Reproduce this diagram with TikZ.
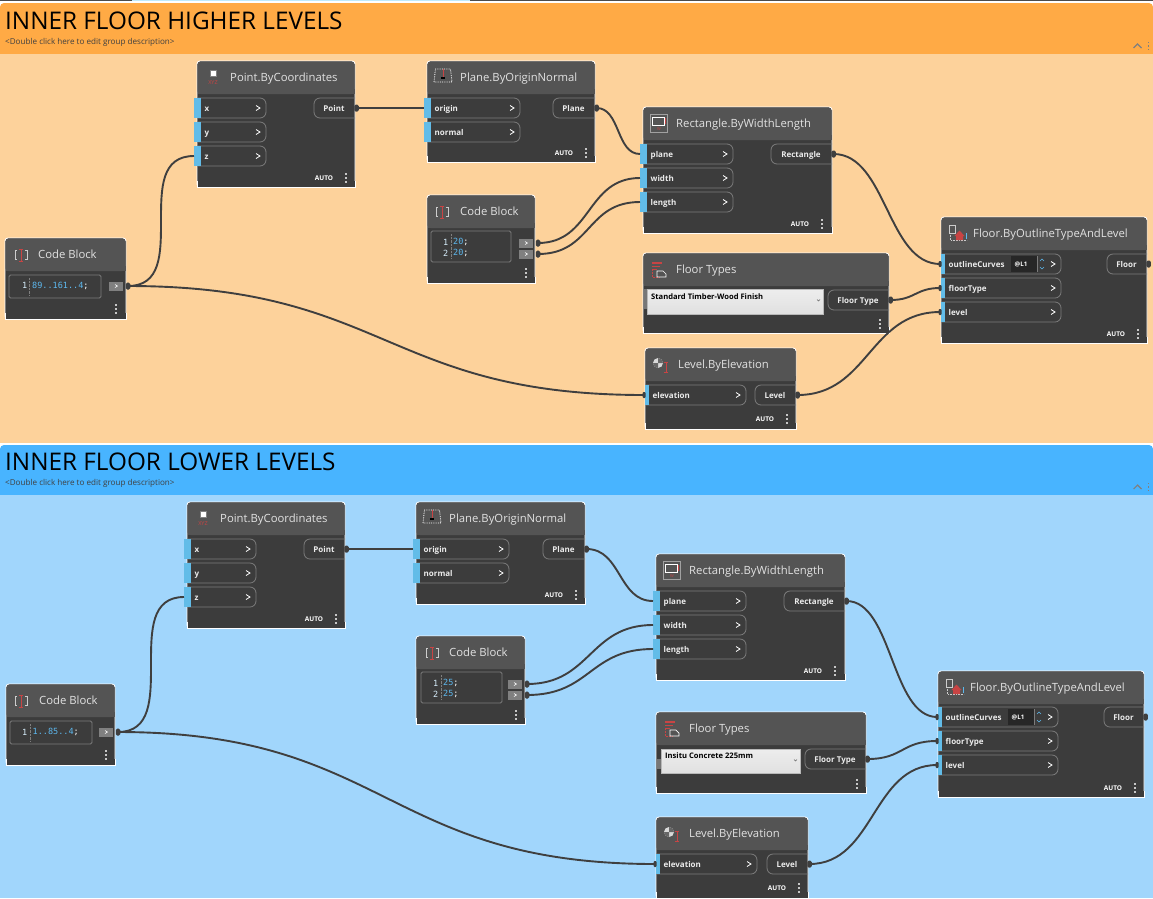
\documentclass[tikz,border=0pt]{standalone}
\usepackage{fontspec}
\setmainfont{Open Sans}
\newfontfamily\monof{DejaVu Sans Mono}
\definecolor{nodebg}{HTML}{3C3C3C}
\definecolor{headbg}{HTML}{545454}
\definecolor{titlecol}{HTML}{E2E2E2}
\definecolor{portline}{HTML}{7C7C7C}
\definecolor{portblue}{HTML}{62BCE8}
\definecolor{wirecol}{HTML}{3F3F3F}
\definecolor{orhead}{HTML}{FFAA45}
\definecolor{orbody}{HTML}{FDD29B}
\definecolor{blhead}{HTML}{48B4FF}
\definecolor{blbody}{HTML}{A1D6FC}
\definecolor{iconred}{HTML}{C84444}
\definecolor{codeblue}{HTML}{5DB8EE}
\tikzset{
  x=1pt,y=-1pt,
  bodybox/.style={draw=white,line width=.9pt,fill=nodebg,rounded corners=3pt,inner sep=0,outer sep=0,anchor=north west},
  titletext/.style={anchor=base west,inner sep=0,text=titlecol,font=\fontsize{11.3}{11.3}\selectfont},
  portbox/.style={draw=portline,line width=.8pt},
  portlabel/.style={anchor=base west,inner sep=0,text=white!92!black,font=\fontsize{8}{8}\selectfont\bfseries},
  portchev/.style={draw=white,line width=.8pt},
  wiredot/.style={rectangle,rounded corners=1.5pt,fill=wirecol,inner sep=0,minimum width=4.5pt,minimum height=7pt},
  indot/.style={rectangle,rounded corners=1pt,fill=wirecol,inner sep=0,minimum width=3pt,minimum height=6pt},
  wire/.style={draw=wirecol,line width=1.9pt},
  autotext/.style={inner sep=0,text=white,font=\fontsize{6.5}{6.5}\selectfont\bfseries},
  grouptitle/.style={anchor=west,inner sep=0,text=black,font=\fontsize{24.3}{25}\selectfont},
  groupdesc/.style={anchor=west,inner sep=0,text=black!75,font=\fontsize{8.1}{8}\selectfont},
  codetext/.style={inner sep=0,anchor=west,font=\fontsize{8.5}{8.5}\selectfont\monof},
  dropdowntext/.style={anchor=west,inner sep=0,text=black,font=\fontsize{7.6}{7.6}\selectfont\bfseries},
}
% id x y w h headerheight title titlex
\newcommand\dynbox[8]{%
  \node[bodybox,minimum width=#4pt,minimum height=#5pt] (#1) at (#2,#3) {};
  \fill[headbg,rounded corners=3pt] (#2+.5,#3+#6) -- (#2+.5,#3+.5) -- (#2+#4-.5,#3+.5) -- (#2+#4-.5,#3+#6) -- cycle;
  \fill[headbg] (#2+.5,#3+#6-5) rectangle (#2+#4-.5,#3+#6);
  \fill[nodebg] (#2+.5,#3+#5-6) rectangle (#2+#4-.5,#3+#5-.5);
  \draw[white,line width=.9pt] (#2,#3+#5-6) -- (#2,#3+#5) -- (#2+#4,#3+#5) -- (#2+#4,#3+#5-6);
  \node[titletext] (#1-title) at (#8,#3+20.5) {#7};
}
% common port body
\newcommand\portbody[5]{%
  \draw[portbox,rounded corners=6pt] (#2,#3-10) -- (#4,#3-10) -- (#4,#3+10) -- (#2,#3+10);
  \node[portlabel] (#1-label) at (#2+7.5,#3+3.5) {#5};
  \draw[portchev] (#4-10,#3-2.5) -- (#4-6,#3) -- (#4-10,#3+2.5);
}
% id xleft y xend label : bar straddles the node edge
\newcommand\inport[5]{%
  \portbody{#1}{#2}{#3}{#4}{#5}
  \fill[portblue] (#2-3,#3-10) rectangle (#2+4,#3+10);
  \coordinate (#1) at (#2-3,#3);
}
% bar inside the node, dot outside
\newcommand\inportb[5]{%
  \portbody{#1}{#2}{#3}{#4}{#5}
  \fill[portblue] (#2,#3-10) rectangle (#2+3.5,#3+10);
  \node[indot] (#1) at (#2-.8,#3) {};
}
% id xstart xend y label
\newcommand\outport[5]{%
  \draw[portbox,rounded corners=6pt] (#3,#4-10) -- (#2,#4-10) -- (#2,#4+10) -- (#3,#4+10);
  \node[portlabel,anchor=base] (#1-label) at ({(#2+#3)/2-.5},#4+3.5) {#5};
  \node[wiredot] (#1) at (#3+1.5,#4) {};
}
% three dots
\newcommand\menudots[2]{\foreach \d in {-4,0,4}{\fill[white!78!black] (#1-.65,#2+\d-.65) rectangle (#1+.65,#2+\d+.65);}}
\newcommand\autofoot[4]{\node[autotext] (#1) at (#2,#4) {AUTO};\menudots{#3}{#4}}
% code box x1 y1 x2 y2
\newcommand\codebox[4]{\draw[portline,line width=.8pt,rounded corners=1.5pt] (#1,#2) rectangle (#3,#4);}
% code line number: id xnum y text
\newcommand\codeline[4]{%
  \node[codetext,anchor=east,text=white!75!codeblue] (#1-n) at (#2+2.5,#3) {#4};
}
\newcommand\codetxt[4]{\node[codetext,text=codeblue] (#1) at (#2,#3) {#4\textcolor{white}{;}};}
% button id x y
\newcommand\codebtn[3]{%
  \fill[white!35!nodebg] (#2,#3-4.5) rectangle (#2+14,#3+4.5);
  \draw[white,line width=.6pt] (#2+6,#3-1.5) -- (#2+8.5,#3) -- (#2+6,#3+1.5);
  \node[wiredot] (#1) at (#2+19,#3) {};
}
% icons, at centre x y
\newcommand\iconpoint[2]{%
  \fill[white] (#1-2.5,#2-6) rectangle (#1+2.5,#2-1);
  \draw[white!50!black,line width=.5pt] (#1-3,#2-6.5) rectangle (#1+3,#2-.5);
  \node[inner sep=0,text=iconred,font=\fontsize{5.5}{5.5}\selectfont] at (#1,#2+6) {XYZ};
}
\newcommand\iconplane[2]{%
  \draw[white,densely dotted,line width=.8pt] (#1-9,#2+5) -- (#1-7.5,#2-8) -- (#1+7.5,#2-8) -- (#1+9,#2+5) -- cycle;
  \draw[iconred,line width=.8pt] (#1,#2-8) -- (#1,#2);
  \fill[black] (#1-2,#2) rectangle (#1+2,#2+2);
}
\newcommand\iconrect[2]{%
  \draw[white!45!headbg,line width=.5pt] (#1-9,#2-9) rectangle (#1+8,#2+9);
  \draw[white,line width=1pt] (#1-7,#2-6) rectangle (#1+5,#2+2);
  \draw[iconred,line width=.5pt] (#1+6.5,#2-5) -- (#1+6.5,#2+1);
  \node[inner sep=0,text=iconred,font=\fontsize{4}{4}\selectfont] at (#1,#2+6) {W};
}
\newcommand\iconcode[2]{%
  \draw[white!80!black,line width=.7pt] (#1-4,#2-3.5) -- (#1-6,#2-3.5) -- (#1-6,#2+5.5) -- (#1-4,#2+5.5);
  \draw[white!80!black,line width=.7pt] (#1+4,#2-3.5) -- (#1+6,#2-3.5) -- (#1+6,#2+5.5) -- (#1+4,#2+5.5);
  \draw[iconred,line width=.9pt] (#1-1.8,#2-5) -- (#1+1.8,#2-5) (#1,#2-5) -- (#1,#2+7) (#1-1.8,#2+7) -- (#1+1.8,#2+7);
}
\newcommand\icontypes[2]{%
  \draw[iconred,line width=1.2pt] (#1-8,#2-7) -- (#1+2,#2-7);
  \draw[iconred,line width=1pt] (#1-8,#2-4) -- (#1,#2-4) (#1-8,#2-1) -- (#1-3,#2-1);
  \draw[iconred,densely dotted,line width=.5pt] (#1-8,#2) -- (#1-8,#2+7) -- (#1,#2+7);
  \draw[white,line width=.7pt] (#1-3,#2+7) -- (#1-3,#2+1) -- (#1+3,#2+1) -- (#1+6,#2+4) -- (#1+6,#2+7) -- cycle;
}
\newcommand\iconlevel[2]{%
  \fill[white!85!black] (#1-1,#2-2) circle (5);
  \fill[white!40!black] (#1-1,#2-2) -- (#1+4,#2-2) arc[start angle=0,end angle=-90,radius=5] -- cycle;
  \fill[white!40!black] (#1-1,#2-2) -- (#1-6,#2-2) arc[start angle=180,end angle=90,radius=5] -- cycle;
  \draw[iconred,line width=.7pt] (#1+7,#2-3) -- (#1+7,#2+7) (#1+5,#2-3) -- (#1+9,#2-3) (#1+5,#2+7) -- (#1+9,#2+7);
}
\newcommand\iconfloor[2]{%
  \draw[white!80!black,line width=.6pt] (#1-9,#2-8) rectangle (#1-3,#2);
  \draw[white!80!black,densely dotted,line width=.6pt] (#1-8,#2) -- (#1-8,#2+7) -- (#1+9,#2+7);
  \fill[iconred] (#1-3.5,#2+3) -- (#1+1.5,#2-2.5) -- (#1+6.5,#2+3) -- (#1+5,#2+3) -- (#1+5,#2+7) -- (#1-2,#2+7) -- (#1-2,#2+3) -- cycle;
  \draw[codeblue,line width=.7pt] (#1+8.5,#2) -- (#1+8.5,#2+6);
}
% lacing box on outlineCurves: x y
\newcommand\lacing[2]{%
  \fill[black!35!nodebg] (#1,#2-8) rectangle (#1+26,#2+8);
  \node[inner sep=0,text=white,font=\fontsize{6.2}{6.2}\selectfont\bfseries] at (#1+10,#2) {@L1};
  \draw[portline,line width=.5pt] (#1+26,#2-8) -- (#1+26,#2+8);
  \draw[codeblue,line width=.5pt] (#1+29,#2-3) -- (#1+31,#2-5) -- (#1+33,#2-3) (#1+29,#2+3) -- (#1+31,#2+5) -- (#1+33,#2+3);
}
\newcommand\dropdown[4]{%
  \shade[top color=white!93!black,bottom color=white!88!black,draw=white!72!black,line width=.8pt] (#1,#2) rectangle (#3,#4);
  \draw[black!60,line width=.5pt] (#3-6,#2+10.5) -- (#3-4.5,#2+12) -- (#3-3,#2+10.5);
}
\newcommand\groupmenu[2]{%
  \draw[black!50,line width=1.1pt] (#1-4,#2+2) -- (#1,#2-2) -- (#1+4,#2+2);
  \foreach \d in {-3.5,0,3.5}{\fill[black!50] (#1+10.5,#2+\d-.6) rectangle (#1+11.6,#2+\d+.6);}
}
\newcommand\wireto[3]{\draw[wire] (#1) .. controls +(#3,0) and +(-#3,0) .. (#2);}
\begin{document}
\begin{tikzpicture}
\useasboundingbox (0,0) rectangle (1153,898);
\fill[white] (0,0) rectangle (1153,898);
\fill[black!70] (0,0) rectangle (132,1);
\fill[cyan!25] (132,0) rectangle (470,1);
\fill[black!70] (470,0) rectangle (1153,1);
% groups
\fill[orbody] (0,20) rectangle (1153,442.5);
\fill[orhead,rounded corners=4pt] (0,3) rectangle (1153,30);
\fill[orhead] (0,20) rectangle (1153,54);
\node[grouptitle] (gt1) at (5,20.5) {INNER FLOOR HIGHER LEVELS};
\node[groupdesc] (gd1) at (5,42.3) {<Double click here to edit group description>};
\groupmenu{1137.5}{46}
\fill[blbody] (0,460) rectangle (1153,898);
\fill[blhead,rounded corners=4pt] (0,445) rectangle (1153,470);
\fill[blhead] (0,460) rectangle (1153,495);
\node[grouptitle] (gt2) at (5,462) {INNER FLOOR LOWER LEVELS};
\node[groupdesc] (gd2) at (5,483.3) {<Double click here to edit group description>};
\groupmenu{1137.5}{487}

% ===== upper =====
\dynbox{ap}{197}{61}{158}{126}{33}{Point.ByCoordinates}{230}
\iconpoint{213}{77}
\inport{apx}{197}{108}{266}{x}
\inport{apy}{197}{132}{266}{y}
\inport{apz}{197}{156}{266}{z}
\outport{apo}{314}{355}{108}{Point}
\autofoot{apa}{324}{346}{178}

\dynbox{acb}{5}{238}{121}{81}{33}{Code Block}{38}
\iconcode{21}{254}
\codebox{9}{275}{101}{298}
\codeline{acbl}{25}{285.5}{1}
\draw[white!35!nodebg,densely dotted,line width=.4pt] (29.5,278) -- (29.5,295);
\codetxt{acbt}{32}{285.5}{89..161..4}
\codebtn{acbo}{109}{286}
\menudots{116}{309}

\dynbox{apl}{427}{61}{168}{101}{33}{Plane.ByOriginNormal}{460}
\iconplane{443}{77}
\inport{aplo}{427}{108}{520}{origin}
\inport{apln}{427}{132}{520}{normal}
\outport{aplp}{553}{595}{108}{Plane}
\autofoot{apla}{564}{586}{153}

\dynbox{are}{643}{107}{189}{126}{33}{Rectangle.ByWidthLength}{676}
\iconrect{659}{123}
\inport{arep}{643}{154}{733}{plane}
\inport{arew}{643}{178}{733}{width}
\inport{arel}{643}{202}{733}{length}
\outport{areo}{771}{832}{154}{Rectangle}
\autofoot{area}{800}{822}{224}

\dynbox{acc}{427}{195}{108}{88}{33}{Code Block}{460}
\iconcode{442}{211}
\codebox{431}{231}{511}{262}
\codeline{accl1}{446}{242}{1}
\codeline{accl2}{446}{253}{2}
\draw[white!35!nodebg,densely dotted,line width=.4pt] (451.5,234) -- (451.5,259);
\codetxt{acct1}{453}{242}{20}
\codetxt{acct2}{453}{253}{20}
\codebtn{acco1}{519}{243}
\codebtn{acco2}{519}{254}
\menudots{526}{273}

\dynbox{aft}{643}{253}{246}{80}{33}{Floor Types}{676}
\icontypes{660}{270}
\fill[white!30!nodebg] (643.5,289) rectangle (647,309);
\dropdown{647}{289}{823}{314}
\node[dropdowntext] (aftd) at (651,297) {Standard Timber-Wood Finish};
\outport{afto}{828}{889}{300}{Floor Type}
\menudots{880}{324}

\dynbox{ale}{645}{348}{151}{81}{33}{Level.ByElevation}{678}
\iconlevel{659}{365}
\inportb{alee}{645}{395}{746}{elevation}
\outport{aleo}{755}{796}{395}{Level}
\autofoot{alea}{765}{787}{419}

\dynbox{afl}{941}{217}{206}{126}{33}{Floor.ByOutlineTypeAndLevel}{973}
\iconfloor{958}{233}
\inportb{aflc}{941}{264}{1061}{outlineCurves}
\lacing{1011}{264}
\inportb{aflt}{941}{288}{1061}{floorType}
\inportb{afll}{941}{312}{1061}{level}
\outport{aflo}{1107}{1147}{264}{Floor}
\autofoot{afla}{1116}{1138}{334}

% ===== lower =====
\dynbox{bp}{187}{502}{158}{126}{33}{Point.ByCoordinates}{220}
\iconpoint{203}{518}
\inport{bpx}{187}{549}{256}{x}
\inport{bpy}{187}{573}{256}{y}
\inport{bpz}{187}{597}{256}{z}
\outport{bpo}{304}{345}{549}{Point}
\autofoot{bpa}{314}{336}{619}

\dynbox{bcb}{6}{684}{109}{81}{33}{Code Block}{39}
\iconcode{21}{700}
\codebox{10}{721}{92}{744}
\codeline{bcbl}{25}{732}{1}
\draw[white!35!nodebg,densely dotted,line width=.4pt] (30.5,724) -- (30.5,741);
\codetxt{bcbt}{32.5}{732}{1..85..4}
\codebtn{bcbo}{99}{732}
\menudots{106}{755}

\dynbox{bpl}{416}{502}{169}{102}{33}{Plane.ByOriginNormal}{449}
\iconplane{432}{518}
\inport{bplo}{416}{549}{509}{origin}
\inport{bpln}{416}{573}{509}{normal}
\outport{bplp}{543}{585}{549}{Plane}
\autofoot{bpla}{554}{576}{595}

\dynbox{bre}{656}{554}{189}{126}{33}{Rectangle.ByWidthLength}{689}
\iconrect{672}{570}
\inport{brep}{656}{601}{746}{plane}
\inport{brew}{656}{625}{746}{width}
\inport{brel}{656}{649}{746}{length}
\outport{breo}{784}{845}{601}{Rectangle}
\autofoot{brea}{813}{835}{671}

\dynbox{bcc}{416}{636}{109}{88}{33}{Code Block}{449}
\iconcode{432}{652}
\codebox{421}{672}{502}{703}
\codeline{bccl1}{436}{683}{1}
\codeline{bccl2}{436}{694}{2}
\draw[white!35!nodebg,densely dotted,line width=.4pt] (441.5,675) -- (441.5,700);
\codetxt{bcct1}{443}{683}{25}
\codetxt{bcct2}{443}{694}{25}
\codebtn{bcco1}{508}{684}
\codebtn{bcco2}{508}{695}
\menudots{516}{715}

\dynbox{bft}{656}{712}{210}{81}{33}{Floor Types}{689}
\icontypes{673}{729}
\fill[white!30!nodebg] (656.5,759) rectangle (661,769);
\dropdown{661}{749}{800}{773}
\node[dropdowntext] (bftd) at (665,756) {Insitu Concrete 225mm};
\outport{bfto}{805}{866}{759}{Floor Type}
\menudots{857}{784}

\dynbox{ble}{656}{817}{152}{81}{33}{Level.ByElevation}{689}
\iconlevel{670}{834}
\inportb{blee}{656}{864}{757}{elevation}
\outport{bleo}{767}{808}{864}{Level}
\autofoot{blea}{777}{799}{888}

\dynbox{bfl}{938}{671}{206}{126}{33}{Floor.ByOutlineTypeAndLevel}{970}
\iconfloor{955}{687}
\inportb{bflc}{938}{717}{1058}{outlineCurves}
\lacing{1008}{717}
\inportb{bflt}{938}{741}{1058}{floorType}
\inportb{bfll}{938}{765}{1058}{level}
\outport{bflo}{1104}{1144}{717}{Floor}
\autofoot{bfla}{1113}{1135}{788}

% ===== wires =====
\wireto{acbo.center}{apz}{66}
\wireto{acbo.center}{alee.center}{258}
\draw[wire] (apo.center) -- (aplo);
\wireto{aplp.center}{arep}{24}
\wireto{acco1.center}{arew}{54}
\wireto{acco2.center}{arel}{54}
\wireto{areo.center}{aflc.center}{53}
\wireto{afto.center}{aflt.center}{25}
\wireto{aleo.center}{afll.center}{71}

\wireto{bcbo.center}{bpz}{66}
\wireto{bcbo.center}{blee.center}{270}
\draw[wire] (bpo.center) -- (bplo);
\wireto{bplp.center}{brep}{35}
\wireto{bcco1.center}{brew}{64}
\wireto{bcco2.center}{brel}{64}
\wireto{breo.center}{bflc.center}{46}
\wireto{bfto.center}{bflt.center}{36}
\wireto{bleo.center}{bfll.center}{65}
\end{tikzpicture}
\end{document}
